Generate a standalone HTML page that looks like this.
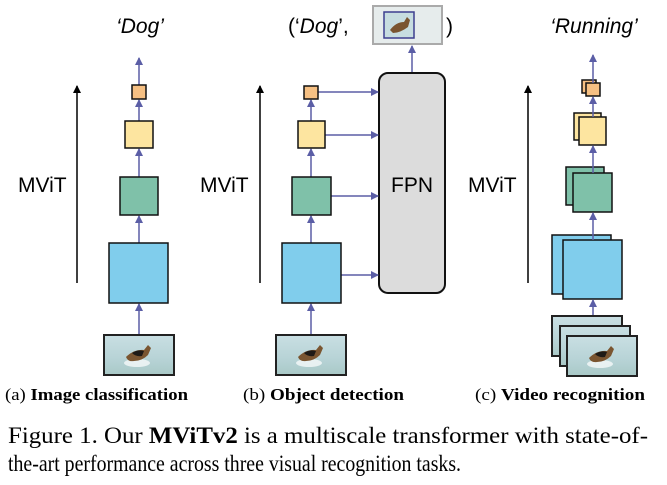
<!DOCTYPE html>
<html><head><meta charset="utf-8"><style>
html,body{margin:0;padding:0;background:#fff;width:667px;height:485px;overflow:hidden}
</style></head><body>
<svg width="667" height="485" viewBox="0 0 667 485" xmlns="http://www.w3.org/2000/svg">
<defs>
<marker id="ah" markerWidth="8" markerHeight="8" refX="7" refY="4" orient="auto" markerUnits="userSpaceOnUse"><path d="M0,0 L8,4 L0,8 z" fill="#5b5ea6"/></marker>
<marker id="bk" markerWidth="8" markerHeight="8" refX="7" refY="4" orient="auto" markerUnits="userSpaceOnUse"><path d="M0,0 L8,4 L0,8 z" fill="#000"/></marker>
<linearGradient id="sea" x1="0" y1="0" x2="0" y2="1"><stop offset="0" stop-color="#c9dfe3"/><stop offset="0.6" stop-color="#b7d3d6"/><stop offset="1" stop-color="#a9c9c7"/></linearGradient>
<g id="pic">
<rect x="0" y="0" width="70" height="40" fill="url(#sea)" stroke="#222" stroke-width="2"/>
<ellipse cx="33" cy="28" rx="13" ry="4" fill="#fff" opacity="0.7"/>
<path d="M22,22 Q30,14 40,15 L44,10 L47,13 L44,20 Q38,26 30,26 Q24,27 22,22z" fill="#7a5530"/>
<path d="M28,18 Q34,14 40,16 L38,21 Q32,22 28,18z" fill="#1e1a16"/>
</g>
</defs>
<g font-family="Liberation Sans, sans-serif">
<!-- panel a -->
<text x="140" y="33" font-size="21" font-style="italic" text-anchor="middle">‘Dog’</text>
<line x1="77" y1="283" x2="77" y2="86" stroke="#000" stroke-width="1.5" marker-end="url(#bk)"/>
<text x="18" y="192" font-size="21">MViT</text>
<g stroke="#5b5ea6" stroke-width="1.5" marker-end="url(#ah)">
<line x1="139" y1="335" x2="139" y2="304"/>
<line x1="139" y1="243" x2="139" y2="216"/>
<line x1="139" y1="177" x2="139" y2="149"/>
<line x1="139" y1="121" x2="139" y2="100"/>
<line x1="139" y1="85" x2="139" y2="58"/>
</g>
<rect x="132" y="85" width="14" height="14" fill="#f6c083" stroke="#111" stroke-width="1.5"/>
<rect x="125" y="121" width="28" height="27" fill="#fde5a0" stroke="#111" stroke-width="1.5"/>
<rect x="120" y="177" width="38" height="38" fill="#7fc1a9" stroke="#111" stroke-width="1.5"/>
<rect x="109" y="243" width="59" height="60" fill="#80cdec" stroke="#111" stroke-width="1.5"/>
<use href="#pic" x="104" y="335"/>
<!-- panel b -->
<text x="288" y="33" font-size="21">(‘<tspan font-style="italic">Dog</tspan>’,</text>
<text x="446" y="33" font-size="21">)</text>
<rect x="373" y="6" width="69" height="38" fill="#e6ecec" stroke="#aaa" stroke-width="2"/>
<rect x="384" y="12" width="30" height="26" fill="#c7dde0" stroke="#3d3f8f" stroke-width="1.5"/>
<path d="M390,30 Q396,22 404,22 L407,17 L410,20 L408,27 Q400,33 393,33z" fill="#7a5530"/>
<line x1="260" y1="283" x2="260" y2="86" stroke="#000" stroke-width="1.5" marker-end="url(#bk)"/>
<text x="200" y="192" font-size="21">MViT</text>
<rect x="379" y="73" width="66" height="220" rx="9" fill="#dcdcdc" stroke="#111" stroke-width="2"/>
<text x="412" y="192" font-size="21" text-anchor="middle">FPN</text>
<g stroke="#5b5ea6" stroke-width="1.5" marker-end="url(#ah)">
<line x1="311" y1="335" x2="311" y2="304"/>
<line x1="311" y1="243" x2="311" y2="216"/>
<line x1="311" y1="177" x2="311" y2="149"/>
<line x1="311" y1="121" x2="311" y2="100"/>
<line x1="318" y1="92" x2="378" y2="92"/>
<line x1="325" y1="135" x2="378" y2="135"/>
<line x1="331" y1="196" x2="378" y2="196"/>
<line x1="341" y1="275" x2="378" y2="275"/>
<line x1="412" y1="72" x2="412" y2="46"/>
</g>
<rect x="304" y="86" width="14" height="13" fill="#f6c083" stroke="#111" stroke-width="1.5"/>
<rect x="298" y="121" width="27" height="27" fill="#fde5a0" stroke="#111" stroke-width="1.5"/>
<rect x="292" y="177" width="39" height="38" fill="#7fc1a9" stroke="#111" stroke-width="1.5"/>
<rect x="282" y="243" width="59" height="60" fill="#80cdec" stroke="#111" stroke-width="1.5"/>
<use href="#pic" x="276" y="335"/>
<!-- panel c -->
<text x="594" y="33" font-size="21" font-style="italic" text-anchor="middle">‘Running’</text>
<line x1="528" y1="283" x2="528" y2="86" stroke="#000" stroke-width="1.5" marker-end="url(#bk)"/>
<text x="468" y="192" font-size="21">MViT</text>
<g stroke="#111" stroke-width="1.5">
<rect x="552" y="235" width="59" height="59" fill="#80cdec"/>
<rect x="563" y="240" width="59" height="59" fill="#80cdec"/>
<rect x="566" y="167" width="38" height="38" fill="#7fc1a9"/>
<rect x="573" y="173" width="39" height="39" fill="#7fc1a9"/>
<rect x="574" y="113" width="27" height="27" fill="#fde5a0"/>
<rect x="579" y="117" width="27" height="28" fill="#fde5a0"/>
<rect x="582" y="80" width="14" height="13" fill="#f6c083"/>
<rect x="586" y="83" width="14" height="13" fill="#f6c083"/>
</g>
<g stroke="#5b5ea6" stroke-width="1.5" marker-end="url(#ah)">
<line x1="593" y1="316" x2="593" y2="300"/>
<line x1="593" y1="240" x2="593" y2="213"/>
<line x1="593" y1="173" x2="593" y2="146"/>
<line x1="593" y1="117" x2="593" y2="97"/>
<line x1="593" y1="83" x2="593" y2="55"/>
</g>
<use href="#pic" x="552" y="316"/>
<use href="#pic" x="560" y="326"/>
<use href="#pic" x="567" y="336"/>
</g>
<g font-family="Liberation Serif, serif">
<text x="5" y="400" font-size="17" textLength="183" lengthAdjust="spacingAndGlyphs">(a) <tspan font-weight="bold">Image classification</tspan></text>
<text x="243" y="400" font-size="17" textLength="161" lengthAdjust="spacingAndGlyphs">(b) <tspan font-weight="bold">Object detection</tspan></text>
<text x="475" y="400" font-size="17" textLength="170" lengthAdjust="spacingAndGlyphs">(c) <tspan font-weight="bold">Video recognition</tspan></text>
<text x="8" y="443" font-size="23" textLength="640" lengthAdjust="spacingAndGlyphs">Figure 1.  Our <tspan font-weight="bold">MViTv2</tspan> is a multiscale transformer with state-of-</text>
<text x="8" y="471" font-size="23" textLength="453" lengthAdjust="spacingAndGlyphs">the-art performance across three visual recognition tasks.</text>
</g>
</svg>
</body></html>
